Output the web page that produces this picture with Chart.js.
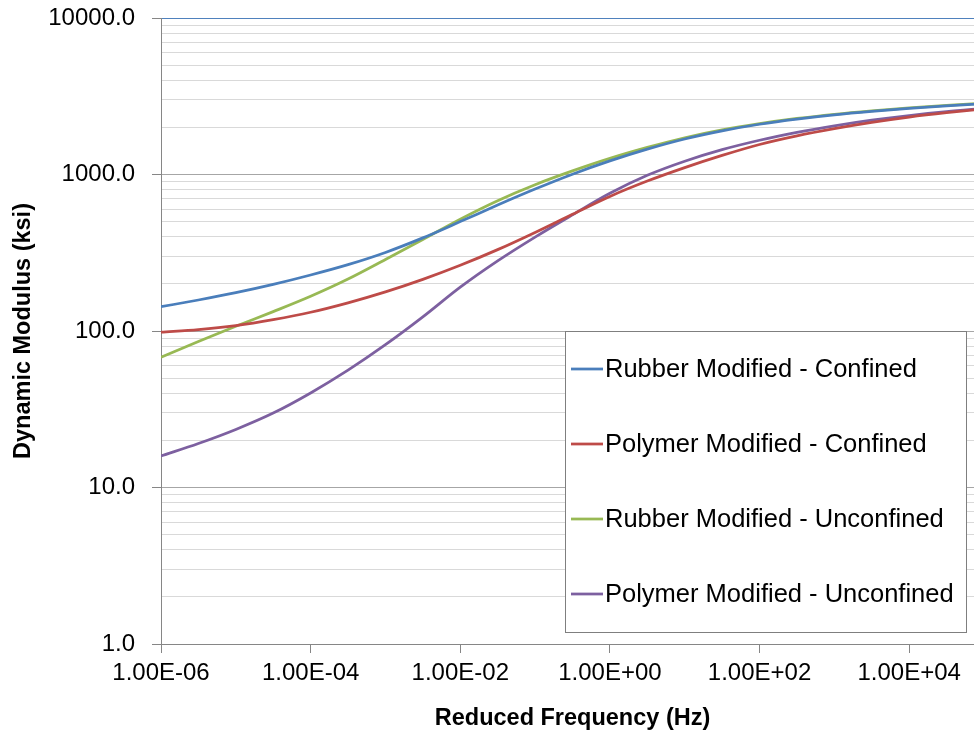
<!DOCTYPE html>
<html>
<head>
<meta charset="utf-8">
<script src="https://cdn.jsdelivr.net/npm/chart.js@4.4.1/dist/chart.umd.min.js"></script>
<style>
  html, body { margin: 0; padding: 0; background: #fff; overflow: hidden; }
  #wrap { position: absolute; left: 0; top: 0; width: 984px; height: 735px; }
</style>
</head>
<body>
<div id="wrap"><canvas id="chart" width="984" height="735"></canvas></div>
<script>
// --- data ---
const freqHz = [1.00e-6, 3.16e-6, 1.00e-5, 3.16e-5, 1.00e-4, 3.16e-4, 1.00e-3, 3.16e-3,
                1.00e-2, 3.16e-2, 1.00e-1, 3.16e-1, 1.00e0, 3.16e0, 1.00e1, 3.16e1,
                1.00e2, 3.16e2, 1.00e3, 3.16e3, 1.00e4, 3.16e4, 1.00e5];

const rubberConfined    = [142.9, 157.8, 175.8, 198.6, 228.0, 265.5, 317.7, 393.6, 500.0, 638.3, 807.2, 1004.6,
                           1221.8, 1452.1, 1686.6, 1901.1, 2094.1, 2259.4, 2404.3, 2529.3, 2642.4, 2741.6, 2831.4];
const polymerConfined   = [98.2, 102.1, 108.4, 118.3, 131.8, 151.4, 177.8, 213.8, 263.0, 331.1, 426.6, 557.2,
                           724.4, 907.8, 1106.6, 1324.3, 1555.6, 1766.0, 1963.0, 2153.0, 2328.0, 2483.0, 2624.0];
const rubberUnconfined  = [67.9, 85.7, 107.2, 133.0, 166.7, 214.8, 286.4, 384.6, 518.8, 680.8, 861.0, 1054.4,
                           1267.7, 1489.4, 1717.9, 1927.5, 2113.5, 2280.4, 2426.6, 2553.5, 2666.9, 2766.9, 2857.6];
const polymerUnconfined = [15.9, 19.1, 23.5, 29.9, 40.2, 56.2, 81.7, 123.0, 190.5, 280.5, 398.1, 552.1,
                           758.6, 988.6, 1216.2, 1442.1, 1655.8, 1857.7, 2046.4, 2223.3, 2382.3, 2523.5, 2642.1];

const seriesLabels = ['Rubber Modified - Confined', 'Polymer Modified - Confined',
                      'Rubber Modified - Unconfined', 'Polymer Modified - Unconfined'];

const xTickValues = [1e-6, 1e-4, 1e-2, 1e0, 1e2, 1e4];
const xTickLabels = ['1.00E-06', '1.00E-04', '1.00E-02', '1.00E+00', '1.00E+02', '1.00E+04'];
const yTickValues = [1, 10, 100, 1000, 10000];
const yTickLabels = ['1.0', '10.0', '100.0', '1000.0', '10000.0'];

// --- styling ---
const FONT = '"Liberation Sans", Arial, sans-serif';
const colors = ['#4A7EBB', '#BE4B48', '#98B954', '#7D60A0'];

const pts = arr => arr.map((v, i) => ({ x: freqHz[i], y: v }));
const isDecade = v => Math.abs(Math.log10(v) - Math.round(Math.log10(v))) < 1e-9;

// minor gridlines 1..9 x each decade
const yGrid = [];
for (let d = 0; d < yTickValues.length - 1; d++) {
  for (let m = 1; m < 10; m++) yGrid.push(yTickValues[d] * m);
}
yGrid.push(yTickValues[yTickValues.length - 1]);

// legend box drawn inside the plot (like the excel one)
const boxLegend = {
  id: 'boxLegend',
  afterDraw(chart) {
    const ctx = chart.ctx;
    ctx.save();
    ctx.fillStyle = '#fff';
    ctx.fillRect(565, 331, 401, 301);
    ctx.strokeStyle = '#7f7f7f';
    ctx.lineWidth = 1;
    ctx.strokeRect(565.5, 331.5, 401, 301);
    ctx.font = '25.5px ' + FONT;
    ctx.textBaseline = 'middle';
    chart.data.datasets.forEach((ds, i) => {
      const y = 369 + i * 75;
      ctx.strokeStyle = ds.borderColor;
      ctx.lineWidth = 2.75;
      ctx.beginPath();
      ctx.moveTo(571, y);
      ctx.lineTo(603, y);
      ctx.stroke();
      ctx.fillStyle = '#000';
      ctx.fillText(ds.label, 605, y + 1);
    });
    ctx.restore();
  }
};

const datasets = [rubberConfined, polymerConfined, rubberUnconfined, polymerUnconfined].map((arr, i) => ({
  label: seriesLabels[i],
  data: pts(arr),
  borderColor: colors[i],
  backgroundColor: colors[i],
  borderWidth: 2.75,
  pointRadius: 0,
  cubicInterpolationMode: 'monotone',
  fill: false
}));

new Chart(document.getElementById('chart'), {
  type: 'line',
  data: { datasets },
  plugins: [boxLegend],
  options: {
    responsive: false,
    animation: false,
    devicePixelRatio: 1,
    layout: { padding: { left: 0, right: 0, top: 18, bottom: 0 } },
    plugins: { legend: { display: false }, tooltip: { enabled: false } },
    scales: {
      x: {
        type: 'logarithmic',
        min: 1e-6,
        max: 1e5,
        afterBuildTicks: s => { s.ticks = xTickValues.map(v => ({ value: v })); },
        afterFit: s => { s.height = 91; s.paddingLeft = 0; s.paddingRight = 0; },
        border: { color: '#868686', width: 1 },
        grid: { drawOnChartArea: false, drawTicks: true, tickLength: 9, tickColor: '#868686' },
        ticks: {
          autoSkip: false,
          maxRotation: 0,
          padding: 6,
          color: '#000',
          font: { family: FONT, size: 24 },
          callback: (v, i) => xTickLabels[i]
        },
        title: {
          display: true,
          text: 'Reduced Frequency (Hz)',
          color: '#000',
          font: { family: FONT, size: 23.5, weight: 'bold' },
          padding: { top: 0, bottom: 2 }
        }
      },
      y: {
        type: 'logarithmic',
        min: 1,
        max: 10000,
        afterBuildTicks: s => { s.ticks = yGrid.map(v => ({ value: v })); },
        afterFit: s => { s.width = 161; s.paddingTop = 0; s.paddingBottom = 0; },
        border: { color: '#868686', width: 1 },
        grid: {
          lineWidth: 1,
          tickLength: 9,
          color: c => {
            const v = c.tick ? c.tick.value : 0;
            if (v === 10000) return '#4F81BD';
            return isDecade(v) ? '#a6a6a6' : '#d9d9d9';
          },
          tickColor: c => (c.tick && isDecade(c.tick.value)) ? '#868686' : 'rgba(0,0,0,0)'
        },
        ticks: {
          autoSkip: false,
          padding: 17,
          color: '#000',
          font: { family: FONT, size: 24 },
          callback: v => {
            const k = yTickValues.indexOf(v);
            return k >= 0 ? yTickLabels[k] : '';
          }
        },
        title: {
          display: true,
          text: 'Dynamic Modulus (ksi)',
          color: '#000',
          font: { family: FONT, size: 23.5, weight: 'bold' },
          padding: { top: 9, bottom: 0 }
        }
      }
    }
  }
});
</script>
</body>
</html>
